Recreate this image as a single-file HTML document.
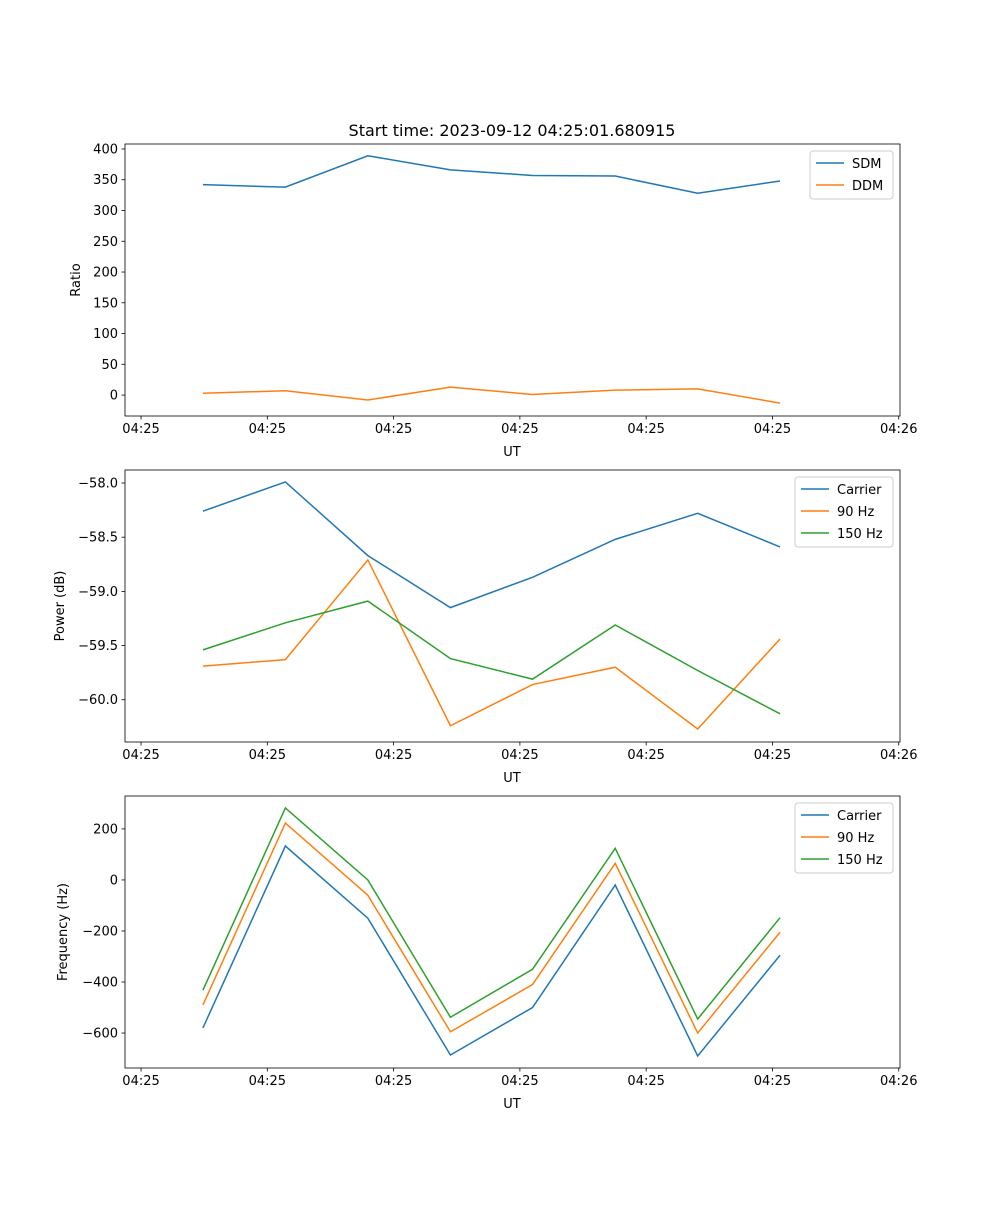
<!DOCTYPE html>
<html><head><meta charset="utf-8"><style>
body{margin:0;background:#fff;}
svg text{font-family:"DejaVu Sans","Liberation Sans",sans-serif;fill:#000;}
</style></head><body>
<svg id="fig" width="1000" height="1200" xmlns="http://www.w3.org/2000/svg">
<rect width="1000" height="1200" fill="#fff"/>
<text x="512" y="136" font-size="16" text-anchor="middle">Start time: 2023-09-12 04:25:01.680915</text>
</svg>
<script>
const xVals=[0.49,1.143,1.796,2.45,3.10,3.755,4.408,5.06];
const xTickVals=[0,1,2,3,4,5,6];
const xTickLabels=["04:25","04:25","04:25","04:25","04:25","04:25","04:26"];
const sdm=[342,338,389,366,357,356,328,348];
const ddm=[3,7,-8,13,1,8,10,-13];
const pCarrier=[-58.26,-57.99,-58.67,-59.15,-58.87,-58.52,-58.28,-58.59];
const p90=[-59.69,-59.63,-58.71,-60.24,-59.86,-59.70,-60.27,-59.44];
const p150=[-59.54,-59.29,-59.09,-59.62,-59.81,-59.31,-59.73,-60.13];
const fCarrier=[-580,133,-150,-686,-500,-20,-690,-295];
const f90=[-490,223,-60,-595,-410,65,-600,-205];
const f150=[-432,282,0,-538,-350,124,-545,-148];
const ratioTicks=[0,50,100,150,200,250,300,350,400];
const powerTicks=[-60.0,-59.5,-59.0,-58.5,-58.0];
const freqTicks=[-600,-400,-200,0,200];

const svg=document.getElementById('fig');
const NS='http://www.w3.org/2000/svg';
function mk(tag,attrs,parent){const e=document.createElementNS(NS,tag);for(const k in attrs)e.setAttribute(k,attrs[k]);(parent||svg).appendChild(e);return e;}
const L=125,R=900,xmin=-0.127,xmax=6.01;
const sx=v=>L+(v-xmin)/(xmax-xmin)*(R-L);
function panel(name,top,bot,ymin,ymax,yticks,fmt,ylabel,ylx,series,legend){
  const g=mk('g',{});
  
  
  const sy=v=>bot-(v-ymin)/(ymax-ymin)*(bot-top);
  series.forEach(s=>{
    const p=mk('polyline',{points:s.d.map((v,i)=>sx(xVals[i])+','+sy(v)).join(' '),fill:'none',stroke:s.c,'stroke-width':1.5},g);
    
    
  });
  const fr=mk('rect',{x:L,y:top,width:R-L,height:bot-top,fill:'none',stroke:'#000','stroke-width':0.8},g);
  
  
  xTickVals.forEach((v,i)=>{
    const x=sx(v);
    mk('line',{x1:x,x2:x,y1:bot,y2:bot+3.5,stroke:'#000','stroke-width':0.8},g);
    const t=mk('text',{x:x,y:bot+17,'font-size':13,'text-anchor':'middle'},g);
    t.textContent=xTickLabels[i];
    
    
  });
  const xl=mk('text',{x:512,y:bot+40,'font-size':13,'text-anchor':'middle'},g);
  xl.textContent='UT';
  
  
  yticks.forEach(v=>{
    const y=sy(v);
    mk('line',{x1:L-3.5,x2:L,y1:y,y2:y,stroke:'#000','stroke-width':0.8},g);
    const t=mk('text',{x:L-7,y:y+4.5,'font-size':13,'text-anchor':'end'},g);
    t.textContent=fmt(v);
    
    
  });
  const yl=mk('text',{x:ylx,y:(top+bot)/2,'font-size':13,'text-anchor':'middle',transform:`rotate(-90 ${ylx} ${(top+bot)/2})`},g);
  yl.textContent=ylabel;
  
  
  const lg=mk('g',{},g);
  
  
  mk('rect',{x:legend.x,y:top+7,width:R-7-legend.x,height:series.length*22+4,fill:'#fff',stroke:'#ccc',rx:3},lg);
  series.forEach((s,i)=>{
    const y=top+19+i*22;
    mk('line',{x1:legend.x+6,x2:legend.x+34,y1:y,y2:y,stroke:s.c,'stroke-width':1.5},lg);
    const t=mk('text',{x:legend.x+42,y:y+5,'font-size':13},lg);
    t.textContent=s.n;
    
    
  });
}
const B='#1f77b4',O='#ff7f0e',G='#2ca02c';
panel('ratio-panel',144,416,-34,408.1,ratioTicks,v=>String(v),'Ratio',80,
  [{n:'SDM',d:sdm,c:B},{n:'DDM',d:ddm,c:O}],{x:810});
panel('power-panel',470,742,-60.39,-57.88,powerTicks,v=>v.toFixed(1).replace('-','\u2212'),'Power (dB)',64,
  [{n:'Carrier',d:pCarrier,c:B},{n:'90 Hz',d:p90,c:O},{n:'150 Hz',d:p150,c:G}],{x:795});
panel('frequency-panel',796,1068,-737,329,freqTicks,v=>String(v).replace('-','\u2212'),'Frequency (Hz)',67,
  [{n:'Carrier',d:fCarrier,c:B},{n:'90 Hz',d:f90,c:O},{n:'150 Hz',d:f150,c:G}],{x:795});
</script>
</body></html>
